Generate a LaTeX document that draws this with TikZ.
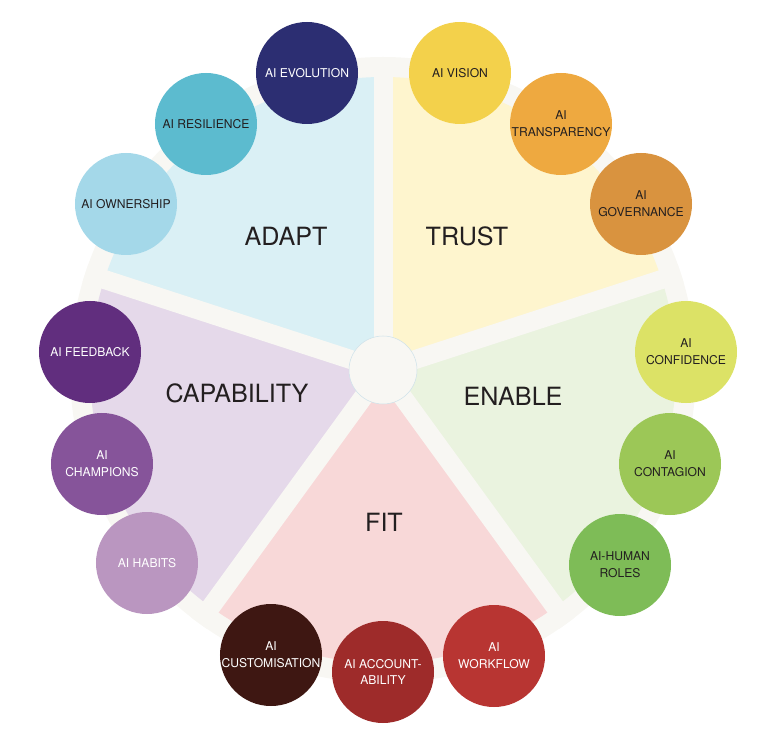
\documentclass[tikz,border=0pt]{standalone}
\usepackage{fontspec}
\setmainfont{TeX Gyre Heros}
\usepackage{tikz}
\definecolor{offwhite}{HTML}{F8F7F3}
\definecolor{hubline}{HTML}{CFE2EA}
\definecolor{inktext}{HTML}{231F20}
\definecolor{adaptbg}{HTML}{DAF0F5}
\definecolor{trustbg}{HTML}{FEF5CE}
\definecolor{enablebg}{HTML}{EAF3DF}
\definecolor{fitbg}{HTML}{F8D8D8}
\definecolor{capabg}{HTML}{E5D9EA}
\definecolor{evolutioncol}{HTML}{2C2E72}
\definecolor{resiliencecol}{HTML}{5CBBCF}
\definecolor{ownershipcol}{HTML}{A4D8E9}
\definecolor{visioncol}{HTML}{F3D14B}
\definecolor{transparencycol}{HTML}{EEA940}
\definecolor{governancecol}{HTML}{D9933F}
\definecolor{confidencecol}{HTML}{DCE266}
\definecolor{contagioncol}{HTML}{9CC757}
\definecolor{humanrolescol}{HTML}{7EBC57}
\definecolor{workflowcol}{HTML}{B83532}
\definecolor{accountcol}{HTML}{9E2B2A}
\definecolor{customcol}{HTML}{3E1712}
\definecolor{feedbackcol}{HTML}{612E7E}
\definecolor{championscol}{HTML}{86549A}
\definecolor{habitscol}{HTML}{BA96C0}

\begin{document}
\begin{tikzpicture}[x=0.2mm,y=0.2mm,
    item/.style={circle,minimum size=20.4mm,inner sep=0pt,align=center,
        font=\fontsize{6.9}{9.6}\selectfont},
    darkitem/.style={item,text=inktext},
    lightitem/.style={item,text=white},
    pillar/.style={font=\fontsize{14.3}{16}\selectfont,text=inktext},
    gap/.style={offwhite,line width=3.8mm}]
    \useasboundingbox (-383,-373) rectangle (385,370);
    % Background disc
    \fill[offwhite](0,0)circle(313);
    % Sectors
    \fill[adaptbg](0,0)--(90:293)arc(90:162:293)--cycle;
    \fill[trustbg](0,0)--(18:293)arc(18:90:293)--cycle;
    \fill[enablebg](0,0)--(-54:293)arc(-54:18:293)--cycle;
    \fill[fitbg](0,0)--(-126:293)arc(-126:-54:293)--cycle;
    \fill[capabg](0,0)--(162:293)arc(162:234:293)--cycle;
    % Gaps between sectors
    \draw[gap](0,0)--(90:313);
    \draw[gap](0,0)--(18:313);
    \draw[gap](0,0)--(-54:313);
    \draw[gap](0,0)--(-126:313);
    \draw[gap](0,0)--(162:313);
    % Hub
    \filldraw[fill=offwhite,draw=hubline,line width=0.3pt](0,0)circle(34);
    % Sector names
    \node[pillar](adapt) at (-97,134){ADAPT};
    \node[pillar](trust) at (84,134){TRUST};
    \node[pillar](enable) at (130,-26){ENABLE};
    \node[pillar](fit) at (1,-152){FIT};
    \node[pillar](capability) at (-146,-23){CAPABILITY};
    % Adapt circles
    \node[lightitem,fill=evolutioncol](evolution) at (-76,297){AI EVOLUTION};
    \node[darkitem,fill=resiliencecol](resilience) at (-177,246){AI RESILIENCE};
    \node[darkitem,fill=ownershipcol](ownership) at (-257,166){AI OWNERSHIP};
    % Trust circles
    \node[darkitem,fill=visioncol](vision) at (77,297){AI VISION};
    \node[darkitem,fill=transparencycol](transparency) at (178,246){AI\\TRANSPARENCY};
    \node[darkitem,fill=governancecol](governance) at (258,166){AI\\GOVERNANCE};
    % Enable circles
    \node[darkitem,fill=confidencecol](confidence) at (303,18){AI\\CONFIDENCE};
    \node[darkitem,fill=contagioncol](contagion) at (287,-94){AI\\CONTAGION};
    \node[darkitem,fill=humanrolescol](humanroles) at (237,-195){AI-HUMAN\\ROLES};
    % Fit circles
    \node[lightitem,fill=workflowcol](workflow) at (111,-286){AI\\WORKFLOW};
    \node[lightitem,fill=accountcol](accountability) at (0,-302){AI ACCOUNT-\\ABILITY};
    \node[lightitem,fill=customcol](customisation) at (-112,-285){AI\\CUSTOMISATION};
    % Capability circles
    \node[lightitem,fill=feedbackcol](feedback) at (-293,18){AI FEEDBACK};
    \node[lightitem,fill=championscol](champions) at (-281,-94){AI\\CHAMPIONS};
    \node[lightitem,fill=habitscol](habits) at (-236,-193){AI HABITS};
\end{tikzpicture}
\end{document}
